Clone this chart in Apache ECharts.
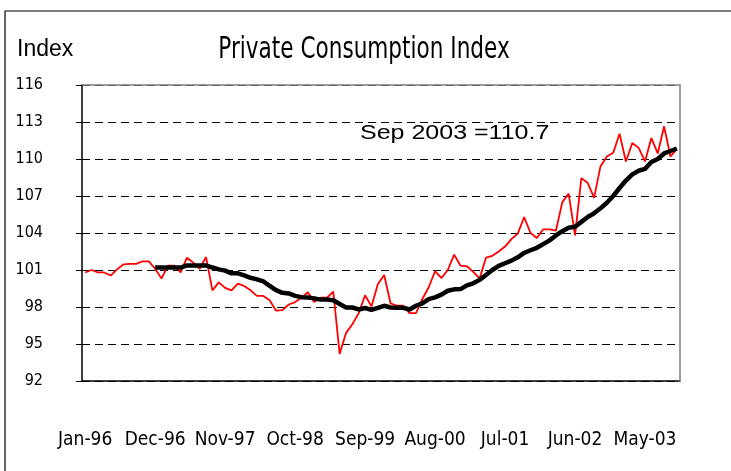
<!DOCTYPE html>
<html>
<head>
<meta charset="UTF-8">
<title>Private Consumption Index</title>
<style>
  html, body { margin: 0; padding: 0; background: #fff; }
  #main { width: 731px; height: 471px; }
</style>
</head>
<body>
<div id="main"></div>
<script src="https://cdn.jsdelivr.net/npm/echarts@6/dist/echarts.min.js"></script>
<script>
// months Jan-96 .. Oct-03
var months = [
  'Jan-96','Feb-96','Mar-96','Apr-96','May-96','Jun-96','Jul-96','Aug-96','Sep-96','Oct-96','Nov-96','Dec-96',
  'Jan-97','Feb-97','Mar-97','Apr-97','May-97','Jun-97','Jul-97','Aug-97','Sep-97','Oct-97','Nov-97','Dec-97',
  'Jan-98','Feb-98','Mar-98','Apr-98','May-98','Jun-98','Jul-98','Aug-98','Sep-98','Oct-98','Nov-98','Dec-98',
  'Jan-99','Feb-99','Mar-99','Apr-99','May-99','Jun-99','Jul-99','Aug-99','Sep-99','Oct-99','Nov-99','Dec-99',
  'Jan-00','Feb-00','Mar-00','Apr-00','May-00','Jun-00','Jul-00','Aug-00','Sep-00','Oct-00','Nov-00','Dec-00',
  'Jan-01','Feb-01','Mar-01','Apr-01','May-01','Jun-01','Jul-01','Aug-01','Sep-01','Oct-01','Nov-01','Dec-01',
  'Jan-02','Feb-02','Mar-02','Apr-02','May-02','Jun-02','Jul-02','Aug-02','Sep-02','Oct-02','Nov-02','Dec-02',
  'Jan-03','Feb-03','Mar-03','Apr-03','May-03','Jun-03','Jul-03','Aug-03','Sep-03','Oct-03'
];

// monthly index (red)
var pci = [
  100.8, 101.0, 100.8, 100.8, 100.55, 101.05, 101.45, 101.5, 101.5, 101.7, 101.7, 101.1,
  100.3, 101.35, 101.35, 100.8, 102.0, 101.6, 101.1, 102.05, 99.35, 100.0, 99.55, 99.35,
  99.9, 99.7, 99.35, 98.9, 98.9, 98.55, 97.7, 97.75, 98.2, 98.4, 98.75, 99.2,
  98.4, 98.75, 98.75, 99.25, 94.2, 95.9, 96.6, 97.5, 98.95, 98.05, 99.85, 100.6,
  98.3, 98.1, 98.1, 97.5, 97.5, 98.65, 99.6, 100.9, 100.35, 101.0, 102.25, 101.35,
  101.3, 100.85, 100.3, 102.0, 102.15, 102.5, 102.9, 103.5, 103.95, 105.3, 104.0, 103.6,
  104.3, 104.3, 104.2, 106.5, 107.2, 103.8, 108.45, 108.05, 106.85, 109.4, 110.2, 110.5,
  112.05, 109.8, 111.3, 110.9, 109.8, 111.7, 110.45, 112.65, 110.2, 110.8
];

// trend line (black), starts Dec-96
var trend = [
  '-', '-', '-', '-', '-', '-', '-', '-', '-', '-', '-', 101.2,
  101.2, 101.2, 101.2, 101.2, 101.37, 101.37, 101.37, 101.37, 101.2, 101.05, 100.95, 100.73,
  100.73, 100.56, 100.37, 100.24, 100.07, 99.72, 99.37, 99.15, 99.1, 98.9, 98.8, 98.77,
  98.7, 98.6, 98.6, 98.55, 98.24, 97.96, 97.96, 97.8, 97.92, 97.77, 97.93, 98.1,
  97.96, 97.94, 97.94, 97.8, 98.1, 98.3, 98.64, 98.78, 99.0, 99.32, 99.43, 99.45,
  99.75, 99.92, 100.2, 100.6, 101.0, 101.33, 101.55, 101.76, 102.03, 102.38, 102.6, 102.8,
  103.1, 103.4, 103.8, 104.15, 104.42, 104.5, 104.9, 105.3, 105.6, 106.0, 106.45, 107.0,
  107.65, 108.25, 108.75, 109.05, 109.2, 109.75, 110.0, 110.45, 110.65, 110.85
];

var narrow = "'Liberation Sans Narrow', 'DejaVu Sans Condensed', 'Liberation Sans', sans-serif";
var plain = "'Liberation Sans', Arial, sans-serif";

var myChart = echarts.init(document.getElementById('main'));

var option = {
  animation: false,
  backgroundColor: '#fff',
  grid: { left: 82, right: 51, top: 85, bottom: 90 },
  xAxis: {
    type: 'category',
    data: months,
    boundaryGap: true,
    axisLine: { lineStyle: { color: '#000', width: 1.5 } },
    axisTick: { interval: 7, length: 9, lineStyle: { color: '#000' } },
    axisLabel: { interval: 10, margin: 50, color: '#000', fontSize: 19, fontFamily: narrow },
    splitLine: { show: false }
  },
  yAxis: {
    type: 'value',
    min: 92,
    max: 116,
    interval: 3,
    axisLine: { show: true, lineStyle: { color: '#000', width: 1.5 } },
    axisTick: { show: true, length: 6, lineStyle: { color: '#000' } },
    axisLabel: { margin: 39, color: '#000', fontSize: 16, fontFamily: narrow },
    splitLine: { lineStyle: { color: '#000', type: [8, 5], width: 1 } }
  },
  series: [{
      name: 'Index',
      type: 'line',
      data: pci,
      symbol: 'none',
      lineStyle: { color: '#ff0000', width: 1.8 },
      z: 2
    },
    {
      name: 'Trend',
      type: 'line',
      data: trend,
      symbol: 'none',
      lineStyle: { color: '#000', width: 4.5 },
      z: 3
    }
  ],
  graphic: [
    { type: 'rect', z: -10, shape: { x: 5, y: 11, width: 800, height: 600 },
      style: { fill: null, stroke: '#000', lineWidth: 1.2 } },
    { type: 'polyline', z: 100, shape: { points: [[82, 85], [680, 85], [680, 381]] },
      style: { stroke: '#808080', lineWidth: 1.5, fill: null } },
    // title, squeezed like the original narrow face
    { type: 'text', x: 364, y: 50, scaleX: 0.8,
      style: { text: 'Private Consumption Index', fontSize: 30, fontFamily: narrow, fill: '#000',
               textAlign: 'center', textVerticalAlign: 'middle' } },
    { type: 'text', x: 17, y: 50,
      style: { text: 'Index', fontSize: 23, fontFamily: plain, fill: '#000', textVerticalAlign: 'middle' } },
    { type: 'text', x: 360, y: 133, scaleX: 1.25,
      style: { text: 'Sep 2003 =110.7', fontSize: 20, fontFamily: plain, fill: '#000', textVerticalAlign: 'middle' } }
  ]
};
myChart.setOption(option);
</script>
</body>
</html>
